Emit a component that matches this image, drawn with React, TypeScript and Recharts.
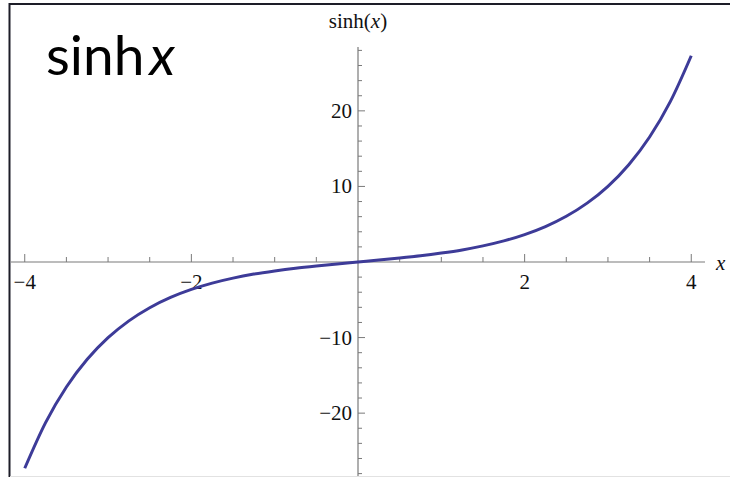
import React from 'react'
import { LineChart, Line, XAxis, YAxis, ReferenceLine } from 'recharts'

// sample points of the curve
const xValues = [
  -4, -3.75, -3.5, -3.25, -3, -2.75, -2.5, -2.25, -2, -1.75, -1.5, -1.25, -1, -0.75, -0.5, -0.25,
  0, 0.25, 0.5, 0.75, 1, 1.25, 1.5, 1.75, 2, 2.25, 2.5, 2.75, 3, 3.25, 3.5, 3.75, 4,
]
const yValues = [
  -27.29, -21.25, -16.54, -12.88, -10.02, -7.79, -6.05, -4.69, -3.63, -2.79, -2.13, -1.6, -1.18, -0.82, -0.52, -0.25,
  0, 0.25, 0.52, 0.82, 1.18, 1.6, 2.13, 2.79, 3.63, 4.69, 6.05, 7.79, 10.02, 12.88, 16.54, 21.25, 27.29,
]

const xMajorTicks = [-4, -2, 2, 4]
const xMinorTicks = [-3.5, -3, -2.5, -1.5, -1, -0.5, 0.5, 1, 1.5, 2.5, 3, 3.5]
const yMajorTicks = [-20, -10, 10, 20]
const yMinorTicks = [
  -28, -26, -24, -22, -18, -16, -14, -12, -8, -6, -4, -2, 2, 4, 6, 8, 12, 14, 16, 18, 22, 24, 26, 28,
]

const data = xValues.map((x, i) => ({ x, y: yValues[i] }))

const axisColor = '#7a7a7a'
const curveColor = '#3d3b98'
const serif = '"Liberation Serif", "DejaVu Serif", serif'

const fmt = (v: number) => (v < 0 ? '\u2212' + Math.abs(v) : String(v))

// both domains are symmetric, so the origin sits in the middle of the plot
const xTick = (len: number, label?: string) => (p: any) => {
  const x = p.x1
  const y0 = (p.y1 + p.y2) / 2
  return (
    <g>
      <line x1={x} x2={x} y1={y0} y2={y0 - len} stroke={axisColor} strokeWidth={1} />
      {label && (
        <text x={x} y={y0 + 27} textAnchor="middle" fontFamily={serif} fontSize={21} fill="#111">
          {label}
        </text>
      )}
    </g>
  )
}

const yTick = (len: number, label?: string) => (p: any) => {
  const y = p.y1
  const x0 = (p.x1 + p.x2) / 2
  return (
    <g>
      <line x1={x0} x2={x0 + len} y1={y} y2={y} stroke={axisColor} strokeWidth={1} />
      {label && (
        <text x={x0 - 6} y={y + 7} textAnchor="end" fontFamily={serif} fontSize={21} fill="#111">
          {label}
        </text>
      )}
    </g>
  )
}

export default function App() {
  return (
    <div style={{ position: 'absolute', left: 0, top: 0, width: 730, height: 477, background: '#fff', overflow: 'hidden' }}>
      <LineChart width={730} height={477} data={data} margin={{ top: 47, right: 25, bottom: 0, left: 11 }}>
        <XAxis type="number" dataKey="x" domain={[-4.165, 4.165]} allowDataOverflow hide />
        <YAxis type="number" domain={[-28.45, 28.45]} allowDataOverflow hide />
        <ReferenceLine y={0} stroke={axisColor} strokeWidth={1.2} />
        <ReferenceLine x={0} stroke={axisColor} strokeWidth={1.2} />
        {xMinorTicks.map((t) => (
          <ReferenceLine key={'xm' + t} x={t} shape={xTick(5)} />
        ))}
        {xMajorTicks.map((t) => (
          <ReferenceLine key={'xM' + t} x={t} shape={xTick(8, fmt(t))} />
        ))}
        {yMinorTicks.map((t) => (
          <ReferenceLine key={'ym' + t} y={t} shape={yTick(4)} />
        ))}
        {yMajorTicks.map((t) => (
          <ReferenceLine key={'yM' + t} y={t} shape={yTick(7, fmt(t))} />
        ))}
        <Line
          dataKey="y"
          type="monotone"
          stroke={curveColor}
          strokeWidth={3}
          dot={false}
          isAnimationActive={false}
        />
      </LineChart>
      <svg width={730} height={477} style={{ position: 'absolute', left: 0, top: 0, pointerEvents: 'none' }}>
        <path d="M730 4 H9.5 V477" fill="none" stroke="#1d1d28" strokeWidth={2} />
        <line x1={10} x2={730} y1={476.5} y2={476.5} stroke="#e2e2e2" strokeWidth={1} />
        <text x={46} y={75} fontFamily="Lato, sans-serif" fontSize={55} fill="#000">
          sinh<tspan dx={5} fontStyle="italic">x</tspan>
        </text>
        <text x={358} y={28} textAnchor="middle" fontFamily={serif} fontSize={21} fill="#111">
          sinh(<tspan fontStyle="italic">x</tspan>)
        </text>
        <text x={716} y={270} fontFamily={serif} fontSize={21} fontStyle="italic" fill="#111">
          x
        </text>
      </svg>
    </div>
  )
}
